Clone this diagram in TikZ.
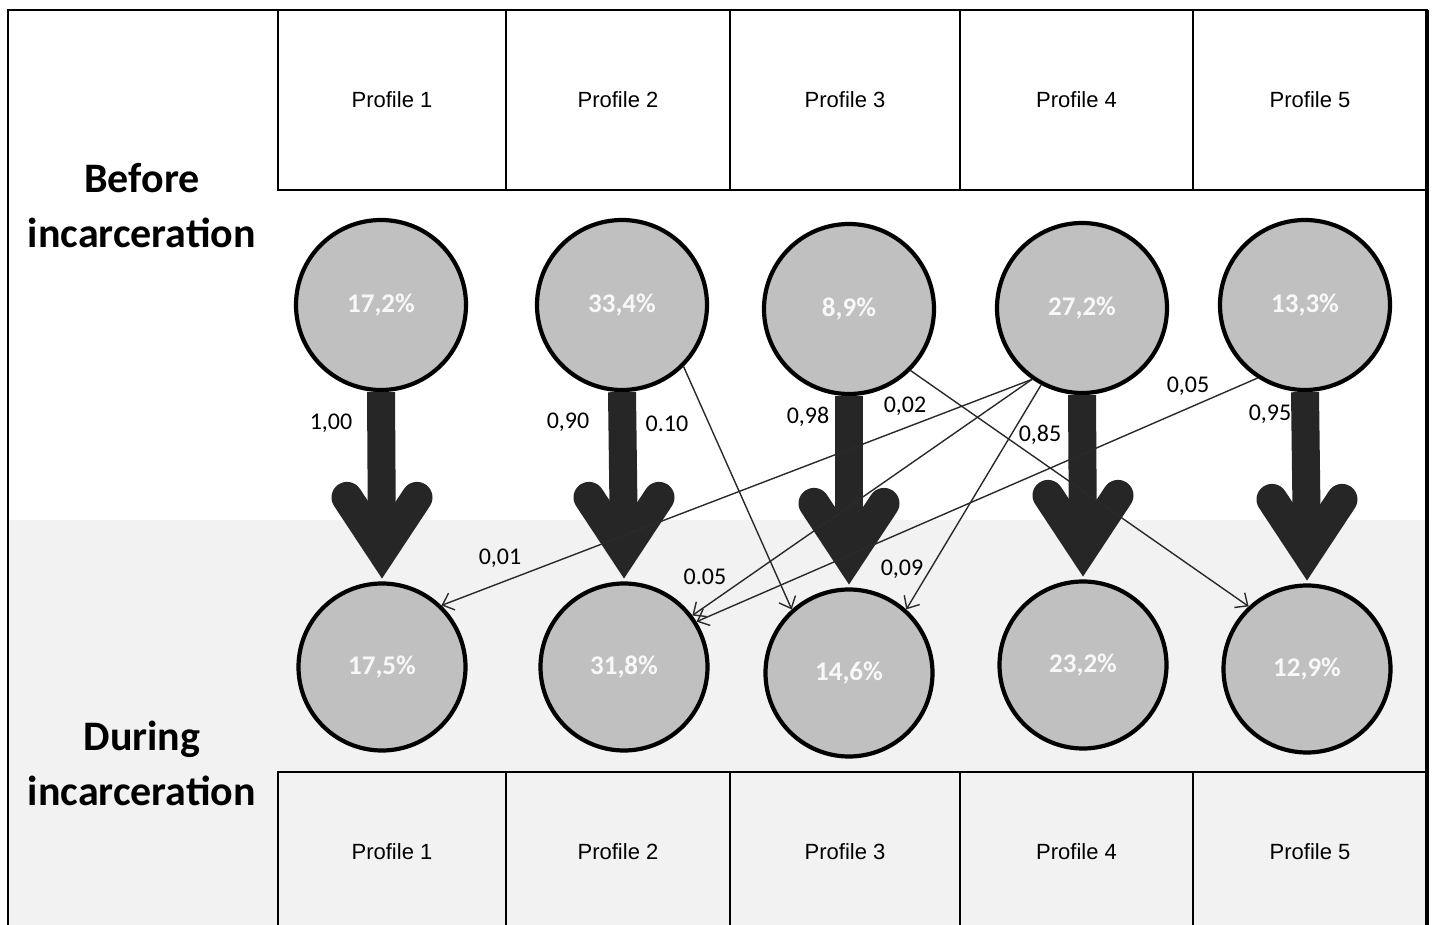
\documentclass[tikz,border=0pt]{standalone}
\usepackage{fontspec}
\setmainfont{Liberation Sans}
\newfontfamily\headfont{Carlito}
\usetikzlibrary{arrows.meta,calc}
\definecolor{bandgray}{HTML}{F2F2F2}
\definecolor{circfill}{HTML}{C0C0C0}
\definecolor{arrowdark}{HTML}{262626}
\definecolor{thinline}{HTML}{2A2A2A}
\definecolor{pcttext}{HTML}{F8F8F8}
\begin{document}
\begin{tikzpicture}[x=0.5pt,y=-0.5pt,
  state/.style={circle,draw=black,line width=2.1pt,fill=circfill,minimum size=85pt,inner sep=0pt,
    font=\headfont\bfseries\fontsize{13.5}{15}\selectfont,text=pcttext},
  lowstate/.style={state,minimum size=83.5pt},
  profbox/.style={draw=black,line width=0.75pt,inner sep=0pt,font=\fontsize{11}{13}\selectfont},
  heading/.style={font=\headfont\bfseries\fontsize{21}{27.5}\selectfont,align=center},
  prob/.style={font=\headfont\fontsize{12}{14}\selectfont,inner sep=1pt},
  shaft/.style={draw=arrowdark,line width=14pt},
  barb/.style={draw=arrowdark,line width=15.5pt,line join=miter,line cap=round},
  flow/.style={draw=thinline,line width=0.7pt,-{Straight Barb[length=5pt,width=9pt]}},
  frame/.style={draw=black,line width=1pt}
]
\useasboundingbox (0,0) rectangle (1432,925);
\fill[white] (0,0) rectangle (1432,925);
\fill[bandgray] (8,520) rectangle (1427,932);

% profile boxes (top)
\node[profbox,minimum width=114pt,minimum height=90pt] (pt1) at (392,100) {Profile 1};
\node[profbox,minimum width=112pt,minimum height=90pt] (pt2) at (618,100) {Profile 2};
\node[profbox,minimum width=115pt,minimum height=90pt] (pt3) at (845,100) {Profile 3};
\node[profbox,minimum width=116.5pt,minimum height=90pt] (pt4) at (1076.5,100) {Profile 4};
\node[profbox,minimum width=117pt,minimum height=90pt] (pt5) at (1310,100) {Profile 5};
% profile boxes (bottom)
\node[profbox,minimum width=114pt,minimum height=80pt] (pb1) at (392,852) {Profile 1};
\node[profbox,minimum width=112pt,minimum height=80pt] (pb2) at (618,852) {Profile 2};
\node[profbox,minimum width=115pt,minimum height=80pt] (pb3) at (845,852) {Profile 3};
\node[profbox,minimum width=116.5pt,minimum height=80pt] (pb4) at (1076.5,852) {Profile 4};
\node[profbox,minimum width=117pt,minimum height=80pt] (pb5) at (1310,852) {Profile 5};

% outer frame
\draw[frame] (8,932) -- (8,10) -- (1427,10);
\draw[draw=black,line width=1.6pt] (1427,10) -- (1427,932);

% headings
\node[heading] (before) at (142,206) {Before\\incarceration};
\node[heading] (during) at (142,763) {During\\incarceration};

% states
\node[state] (t1) at (381,305) {17,2\%};
\node[state] (t2) at (622,305) {33,4\%};
\node[state] (t3) at (849,309) {8,9\%};
\node[state] (t4) at (1082,308) {27,2\%};
\node[state] (t5) at (1305,305) {13,3\%};
\node[lowstate] (b1) at (382,667) {17,5\%};
\node[lowstate] (b2) at (624,667) {31,8\%};
\node[lowstate] (b3) at (849,673) {14,6\%};
\node[lowstate] (b4) at (1083,665) {23,2\%};
\node[lowstate] (b5) at (1307,669) {12,9\%};

% thick arrows
\foreach \a/\b in {t1/b1,t2/b2,t3/b3,t4/b4,t5/b5}{
  \draw[shaft] (\a.south) -- ($(\b.north)+(0,-34)$);
  \draw[barb] ($(\b.north)+(-35,-84)$) -- ($(\b.north)+(0,-31)$) -- ($(\b.north)+(35,-84)$);
}

% thin arrows
\draw[flow] (t2.-45) -- (b3.132);
\draw[flow] (t3.-45) -- (b5.133);
\draw[flow] (t4.235) -- (b1.46);
\draw[flow] (t4.235) -- (b2.37);
\draw[flow] (t4.242) -- (b3.48);
\draw[flow] (t5.237) -- (b2.32);

% probabilities
\node[prob] (l1) at (331,423) {1,00};
\node[prob] (l2) at (568,422) {0,90};
\node[prob] (l3) at (667,424) {0.10};
\node[prob] (l4) at (808,417) {0,98};
\node[prob] (l5) at (905,406) {0,02};
\node[prob] (l6) at (1040,435) {0,85};
\node[prob] (l7) at (1188,386) {0,05};
\node[prob] (l8) at (1270,414) {0,95};
\node[prob] (l9) at (500,558) {0,01};
\node[prob] (l10) at (705,577) {0.05};
\node[prob] (l11) at (902,569) {0,09};
\end{tikzpicture}
\end{document}
